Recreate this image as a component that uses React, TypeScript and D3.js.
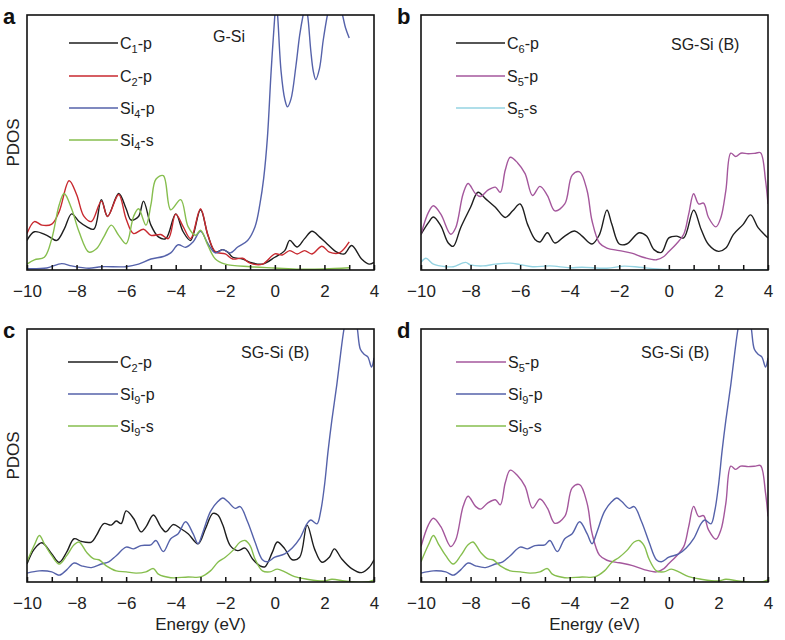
import React, { useEffect, useRef } from 'react';
import * as d3 from 'd3';

type Pt = [number, number];

const energyTicks = d3.range(-10, 5, 1);
const energyLabels = [-10, -8, -6, -4, -2, 0, 2, 4];

// a: G-Si
const c1pG: Pt[] = [[-10, 11.6], [-9.7, 15], [-9.2, 13.6], [-8.8, 11.6], [-8.5, 16], [-8.2, 22], [-7.9, 19], [-7.6, 17], [-7.3, 16], [-7.0, 27.6], [-6.75, 21], [-6.3, 30], [-6.0, 24], [-5.8, 19.6], [-5.5, 21], [-5.3, 27], [-5.0, 17.6], [-4.7, 13], [-4.4, 12.3], [-4.0, 22], [-3.7, 15], [-3.4, 11.6], [-3.0, 23.6], [-2.7, 13.6], [-2.4, 7], [-2.1, 8], [-1.9, 7], [-1.7, 5], [-1.3, 4.3], [-1.0, 3], [-0.5, 2.3], [0, 5], [0.4, 7.6], [0.6, 11.6], [0.9, 9], [1.2, 12.3], [1.5, 15.2], [1.8, 13], [2.1, 10.3], [2.5, 7], [2.8, 6.3], [3.1, 9.6], [3.5, 4.3], [3.8, 2.3], [4.0, 3]];
const c2pG: Pt[] = [[-10, 14.3], [-9.7, 19], [-9.4, 17.6], [-9.0, 18], [-8.7, 23], [-8.3, 35], [-8.0, 29.6], [-7.7, 21], [-7.4, 19], [-7.0, 27], [-6.75, 21], [-6.3, 29.6], [-6.0, 20], [-5.7, 14.3], [-5.3, 16], [-5.0, 13.6], [-4.6, 13.9], [-4.3, 12.3], [-4.0, 21.9], [-3.7, 17], [-3.4, 12.3], [-3.0, 24], [-2.7, 13.6], [-2.4, 7.2], [-2.0, 6.3], [-1.7, 4.3], [-1.3, 4.6], [-1.0, 2.7], [-0.5, 2.3], [0, 6.3], [0.3, 5.9], [0.6, 7.6], [0.9, 6.3], [1.2, 7.6], [1.5, 6.3], [1.9, 9.3], [2.2, 7], [2.6, 6.7], [3.0, 11]];
const si4pG: Pt[] = [[-10, 0.5], [-9.2, 0.8], [-8.6, 2.5], [-8.2, 1.6], [-7.5, 0.7], [-7.0, 1.3], [-6.0, 1.3], [-5.5, 2.3], [-5.0, 4.3], [-4.5, 5.3], [-4.2, 6.7], [-3.9, 9.9], [-3.6, 8.9], [-3.3, 11], [-3.0, 15.2], [-2.7, 10.3], [-2.4, 6.7], [-2.1, 8], [-1.8, 6.7], [-1.5, 9], [-1.1, 11.6], [-0.8, 17], [-0.6, 26], [-0.45, 36], [-0.3, 52], [-0.15, 78], [0, 100], [0.05, 106], [0.11, 100], [0.25, 78], [0.4, 67], [0.51, 64], [0.65, 67], [0.85, 80], [1.0, 92], [1.14, 100], [1.23, 104], [1.32, 100], [1.45, 86], [1.55, 78], [1.65, 74.7], [1.8, 79], [1.95, 90], [2.12, 100], [2.4, 112], [2.73, 100], [2.85, 95], [3.0, 91]];
const si4sG: Pt[] = [[-10, 2.3], [-9.7, 4], [-9.3, 5], [-9.0, 12.3], [-8.7, 25.6], [-8.5, 30], [-8.2, 24], [-7.9, 15], [-7.5, 7], [-7.2, 8.3], [-6.9, 13], [-6.6, 17.6], [-6.3, 13.6], [-6.0, 10.3], [-5.7, 21], [-5.5, 24], [-5.2, 17.6], [-5.0, 25.6], [-4.8, 35.6], [-4.5, 37], [-4.2, 23.6], [-3.8, 27.6], [-3.5, 17], [-3.2, 13.6], [-3.0, 15.6], [-2.7, 9.6], [-2.4, 4.3], [-2.0, 2.3], [-1.0, 1.3], [0, 0.8], [1.0, 0.3], [2.0, 0.4], [3.0, 0.9]];

// b-d: SG-Si (B)
const c6pB: Pt[] = [[-10, 14], [-9.7, 18.6], [-9.5, 20.8], [-9.2, 17.3], [-8.9, 10.6], [-8.7, 9.3], [-8.4, 16.6], [-8.0, 24.6], [-7.7, 30.5], [-7.4, 28], [-7.0, 24.6], [-6.6, 20.6], [-6.3, 23.2], [-6.0, 25.9], [-5.7, 17.9], [-5.4, 12], [-5.2, 11], [-4.9, 14.6], [-4.6, 10.6], [-4.2, 13.3], [-3.8, 15.3], [-3.5, 13.3], [-3.1, 10.2], [-2.8, 13.9], [-2.5, 23.5], [-2.3, 17.9], [-2.0, 10.2], [-1.7, 10.2], [-1.2, 14.6], [-0.9, 13.3], [-0.6, 8], [-0.3, 6.9], [0, 12.6], [0.3, 13.3], [0.6, 12.6], [1.0, 23.5], [1.3, 16], [1.6, 10], [2.0, 7.3], [2.3, 8.6], [2.6, 13.9], [3.0, 17.9], [3.3, 21.6], [3.6, 16.6], [4.0, 12.6]];
const s5pB: Pt[] = [[-10, 14], [-9.7, 22.6], [-9.5, 25.2], [-9.2, 21.9], [-8.8, 14], [-8.6, 16.6], [-8.3, 29.9], [-8.1, 33.9], [-7.8, 29.9], [-7.6, 28.8], [-7.3, 31.3], [-7.0, 32.5], [-6.8, 30.5], [-6.6, 39.2], [-6.4, 44.2], [-6.1, 42], [-5.8, 37.8], [-5.5, 29.2], [-5.2, 32.8], [-4.9, 29.2], [-4.6, 23.2], [-4.2, 25.9], [-3.9, 37.2], [-3.6, 38.5], [-3.3, 31.2], [-3.1, 19.3], [-2.8, 10.6], [-2.5, 8.6], [-2.0, 7.6], [-1.5, 6.6], [-1.0, 4.9], [-0.5, 4], [-0.2, 5.3], [0, 7.3], [0.3, 10.2], [0.6, 14], [0.8, 21.9], [1.0, 29.9], [1.2, 25.9], [1.4, 26.2], [1.6, 20.6], [1.9, 16.9], [2.1, 20.6], [2.3, 31.2], [2.5, 45.8], [2.7, 44.5], [2.9, 45.8], [3.2, 45.6], [3.5, 45.8], [3.7, 46], [3.9, 35.2], [4.0, 25.9]];
const s5sB: Pt[] = [[-10, 3], [-9.8, 4.6], [-9.5, 2.3], [-9.0, 1.3], [-8.7, 1.3], [-8.2, 3], [-8.0, 2], [-7.5, 1.6], [-7.0, 2.3], [-6.4, 2.7], [-6.0, 2.1], [-5.5, 1.3], [-4.8, 1.6], [-4.0, 0.9], [-3.5, 1.1], [-2.5, 0.7], [-1.8, 1.5], [-1.2, 1.1], [-0.5, 0.4], [0, 0.1], [1, 0], [2, 0.1], [3, 0], [4, 0.1]];
const c2pB: Pt[] = [[-10, 7.1], [-9.7, 13.1], [-9.4, 15.5], [-9.0, 11.1], [-8.7, 7.8], [-8.4, 11.8], [-8.1, 17.1], [-7.8, 16], [-7.4, 15.8], [-7.2, 18.4], [-6.9, 23.1], [-6.6, 22.5], [-6.4, 24.1], [-6.2, 23.1], [-6.0, 28.1], [-5.7, 25.1], [-5.4, 19.8], [-5.2, 21.8], [-4.9, 26.5], [-4.6, 21.8], [-4.4, 19.8], [-4.1, 22.7], [-3.8, 21.1], [-3.5, 19.1], [-3.1, 15.1], [-2.8, 21.1], [-2.5, 27.1], [-2.3, 26.5], [-2.1, 22.5], [-1.8, 14.4], [-1.5, 12.4], [-1.2, 13.4], [-0.9, 9.1], [-0.6, 6.4], [-0.4, 6], [-0.1, 11.8], [0.1, 15.8], [0.4, 13.1], [0.7, 8.8], [1.0, 9.8], [1.3, 22.5], [1.6, 13.1], [1.9, 7.8], [2.2, 9.8], [2.4, 13.1], [2.7, 9.1], [3.1, 5.3], [3.5, 3.7], [3.8, 5.7], [4.0, 8.8]];
const si9pB: Pt[] = [[-10, 3.5], [-9.5, 4.4], [-9.0, 4], [-8.7, 2.7], [-8.4, 4.8], [-8.1, 7.5], [-7.8, 6.4], [-7.4, 5.7], [-7.0, 7.1], [-6.7, 8], [-6.4, 10.4], [-6.0, 13.8], [-5.7, 13.1], [-5.4, 14.4], [-5.0, 14.7], [-4.8, 16.4], [-4.5, 12], [-4.2, 17.1], [-3.9, 19.1], [-3.6, 23.8], [-3.3, 19.1], [-3.1, 15.1], [-2.9, 19.8], [-2.6, 27.8], [-2.3, 31.8], [-2.1, 33.2], [-1.9, 31.8], [-1.6, 29.1], [-1.4, 29.8], [-1.1, 23.8], [-0.8, 15.8], [-0.5, 8.8], [-0.3, 8], [0, 9.8], [0.4, 11.1], [0.7, 13.4], [1.0, 17.1], [1.3, 23.1], [1.45, 24.5], [1.7, 23], [1.85, 28], [2.0, 38], [2.15, 52], [2.3, 64], [2.5, 78], [2.65, 90], [2.79, 100], [3.0, 110], [3.2, 108], [3.33, 100], [3.45, 92], [3.6, 90], [3.75, 89], [3.9, 85], [4.0, 88.6]];
const si9sB: Pt[] = [[-10, 8], [-9.7, 14.7], [-9.5, 18.4], [-9.3, 15.1], [-9.0, 10.4], [-8.7, 7.1], [-8.4, 10.4], [-8.1, 14.7], [-7.9, 15.8], [-7.6, 11.8], [-7.3, 9.1], [-7.1, 8.8], [-6.8, 6.4], [-6.4, 4.4], [-6.0, 4], [-5.6, 3.5], [-5.2, 4], [-4.9, 5.3], [-4.7, 3.1], [-4.2, 1.7], [-3.5, 2], [-3.0, 2], [-2.6, 4.4], [-2.3, 7.8], [-2.0, 9.8], [-1.7, 12.4], [-1.4, 15.8], [-1.2, 16.4], [-1.0, 14.4], [-0.8, 9.1], [-0.5, 4.4], [-0.2, 4], [0.1, 5.1], [0.4, 4], [0.8, 2.1], [1.3, 1.1], [2.0, 0.4], [2.3, 1.1], [2.8, 0.4], [3.2, 0], [3.8, 0.1], [4.0, 0.8]];

const black = '#1e1e1e';
const red = '#c8292f';
const blue = '#5562aa';
const green = '#86be4e';
const purple = '#a4579c';
const cyan = '#95d3e2';

interface Series { label: [string, string, string]; color: string; data: Pt[] }
interface Panel {
  letter: string; left: number; top: number; right: number; bottom: number
  note: string; noteX: number; noteY: number
  legX: [number, number]; legY: number[]
  series: Series[]; yLabel: boolean; xLabel: boolean
}

const panels: Panel[] = [
  {
    letter: 'a', left: 27, top: 15, right: 374, bottom: 270,
    note: 'G-Si', noteX: 213, noteY: 42, legX: [69, 118], legY: [43, 76, 108, 140],
    series: [
      { label: ['C', '1', '-p'], color: black, data: c1pG },
      { label: ['C', '2', '-p'], color: red, data: c2pG },
      { label: ['Si', '4', '-p'], color: blue, data: si4pG },
      { label: ['Si', '4', '-s'], color: green, data: si4sG },
    ],
    yLabel: true, xLabel: false,
  },
  {
    letter: 'b', left: 421, top: 15, right: 768, bottom: 270,
    note: 'SG-Si (B)', noteX: 671, noteY: 50, legX: [456, 505], legY: [43, 76, 108],
    series: [
      { label: ['C', '6', '-p'], color: black, data: c6pB },
      { label: ['S', '5', '-p'], color: purple, data: s5pB },
      { label: ['S', '5', '-s'], color: cyan, data: s5sB },
    ],
    yLabel: false, xLabel: false,
  },
  {
    letter: 'c', left: 27, top: 329, right: 374, bottom: 582,
    note: 'SG-Si (B)', noteX: 241, noteY: 358, legX: [68, 118], legY: [362, 394, 426],
    series: [
      { label: ['C', '2', '-p'], color: black, data: c2pB },
      { label: ['Si', '9', '-p'], color: blue, data: si9pB },
      { label: ['Si', '9', '-s'], color: green, data: si9sB },
    ],
    yLabel: true, xLabel: true,
  },
  {
    letter: 'd', left: 421, top: 329, right: 768, bottom: 582,
    note: 'SG-Si (B)', noteX: 641, noteY: 358, legX: [456, 506], legY: [362, 394, 426],
    series: [
      { label: ['S', '5', '-p'], color: purple, data: s5pB },
      { label: ['Si', '9', '-p'], color: blue, data: si9pB },
      { label: ['Si', '9', '-s'], color: green, data: si9sB },
    ],
    yLabel: false, xLabel: true,
  },
];

const font = '"Liberation Sans", Arial, Helvetica, sans-serif';

const App = () => {
  const ref = useRef<SVGSVGElement>(null);

  useEffect(() => {
    draw();
  }, []);

  const draw = () => {
    const svg = d3.select(ref.current);
    svg.selectAll('*').remove();
    const defs = svg.append('defs');

    panels.forEach((p) => {
      const x = d3.scaleLinear().domain([-10, 4]).range([p.left, p.right]);
      const y = d3.scaleLinear().domain([0, 100]).range([p.bottom, p.top]);

      defs.append('clipPath').attr('id', `clip-${p.letter}`)
        .append('rect')
        .attr('x', p.left).attr('y', p.top)
        .attr('width', p.right - p.left).attr('height', p.bottom - p.top);

      const line = d3.line<Pt>()
        .x((d) => x(d[0]))
        .y((d) => y(d[1]))
        .curve(d3.curveCatmullRom.alpha(0.5));

      const g = svg.append('g').attr('clip-path', `url(#clip-${p.letter})`);
      p.series.forEach((s) => {
        g.append('path')
          .attr('d', line(s.data) || '')
          .attr('fill', 'none')
          .attr('stroke', s.color)
          .attr('stroke-width', 1.4)
          .attr('stroke-linejoin', 'round');
      });

      // frame
      svg.append('rect')
        .attr('x', p.left).attr('y', p.top)
        .attr('width', p.right - p.left).attr('height', p.bottom - p.top)
        .attr('fill', 'none').attr('stroke', '#111').attr('stroke-width', 1.6);

      // x axis with inward ticks
      const ax = svg.append('g')
        .attr('transform', `translate(0,${p.bottom})`)
        .call(
          d3.axisBottom(x)
            .tickValues(energyTicks)
            .tickSize(-5)
            .tickPadding(15)
            .tickFormat((d) => (energyLabels.includes(+d) ? d3.format('')(+d) : ''))
        );
      ax.select('.domain').remove();
      ax.selectAll('line').attr('stroke', '#111').attr('stroke-width', 1.5);
      ax.selectAll('text')
        .attr('font-family', font)
        .attr('font-size', 17)
        .attr('fill', '#222');

      // legend
      p.series.forEach((s, i) => {
        const ly = p.legY[i];
        svg.append('line')
          .attr('x1', p.legX[0]).attr('x2', p.legX[1])
          .attr('y1', ly).attr('y2', ly)
          .attr('stroke', s.color).attr('stroke-width', 1.4);
        const t = svg.append('text')
          .attr('x', p.legX[1] + 2)
          .attr('y', ly + 6)
          .attr('font-family', font)
          .attr('font-size', 16)
          .attr('fill', '#222');
        t.append('tspan').text(s.label[0]);
        t.append('tspan').attr('font-size', 11).attr('dy', 4).text(s.label[1]);
        t.append('tspan').attr('dy', -4).text(s.label[2]);
      });

      svg.append('text')
        .attr('x', p.noteX).attr('y', p.noteY)
        .attr('font-family', font).attr('font-size', 16).attr('fill', '#222')
        .text(p.note);

      svg.append('text')
        .attr('x', p.left - 24).attr('y', p.top + 9)
        .attr('font-family', font).attr('font-size', 22).attr('font-weight', 'bold')
        .attr('fill', '#111')
        .text(p.letter);

      if (p.yLabel) {
        svg.append('text')
          .attr('transform', `translate(19,${(p.top + p.bottom) / 2}) rotate(-90)`)
          .attr('text-anchor', 'middle')
          .attr('font-family', font).attr('font-size', 17).attr('fill', '#222')
          .text('PDOS');
      }
      if (p.xLabel) {
        svg.append('text')
          .attr('x', (p.left + p.right) / 2).attr('y', 630)
          .attr('text-anchor', 'middle')
          .attr('font-family', font).attr('font-size', 17).attr('fill', '#222')
          .text('Energy (eV)');
      }
    });
  };

  return (
    <svg
      ref={ref}
      width={785}
      height={640}
      style={{ position: 'absolute', left: 0, top: 0, background: '#fff' }}
    />
  );
};

export default App;
